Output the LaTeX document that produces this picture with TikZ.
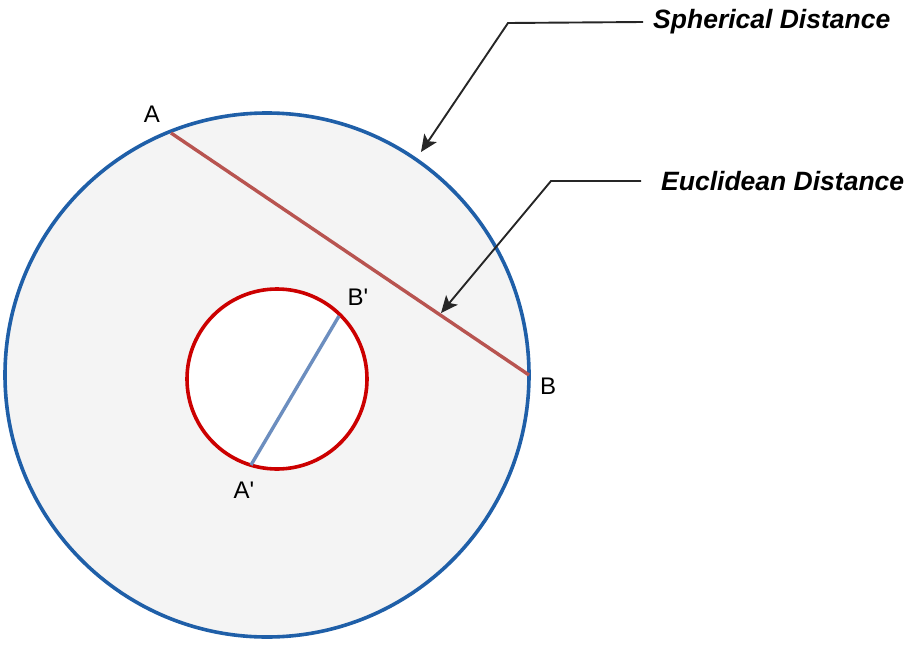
\documentclass[tikz,border=0pt]{standalone}
\usepackage{fontspec}
\setmainfont{Liberation Sans}
\usetikzlibrary{arrows.meta}
\definecolor{outerblue}{HTML}{1F5FA8}
\definecolor{outerfill}{HTML}{F4F4F4}
\definecolor{chordred}{HTML}{B85450}
\definecolor{innerred}{HTML}{CC0000}
\definecolor{chordblue}{HTML}{6C8EBF}
\tikzset{
  ptlabel/.style={font=\fontsize{24}{28}\selectfont, inner sep=0pt},
  title/.style={font=\fontsize{26.5}{30}\selectfont\bfseries\itshape, inner sep=0pt},
  pointer/.style={draw=black!85, line width=1.9pt, -{Stealth[length=17pt,width=15pt,inset=4pt]}},
}
\begin{document}
\begin{tikzpicture}[x=1pt,y=-1pt]
\useasboundingbox (0,0) rectangle (920,645);
% outer sphere
\draw[outerblue, fill=outerfill, line width=3.6pt] (267,375) circle[radius=262];
% inner circle
\draw[innerred, fill=white, line width=3.6pt] (277,379) circle[radius=90];
% chord points
\coordinate (A) at (171,133);
\coordinate (B) at (529,375);
\coordinate (Bp) at (339,316);
\coordinate (Ap) at (251,465);
\draw[chordred, line width=3.4pt] (A) -- (B);
\draw[chordblue, line width=3.4pt] (Ap) -- (Bp);
% labels
\node[ptlabel] (lA) at (152,114) {A};
\node[ptlabel] (lB) at (548,386) {B};
\node[ptlabel] (lBp) at (358,297) {B\textquotesingle};
\node[ptlabel] (lAp) at (244,490) {A\textquotesingle};
% titles
\node[title, anchor=west] (sph) at (653,22) {Spherical Distance};
\node[title, anchor=west] (euc) at (661,181) {Euclidean Distance};
\coordinate (s1) at (508,23);
\coordinate (s2) at (421,152);
\coordinate (e1) at (551,181);
\coordinate (e2) at (441,313);
\draw[pointer] ([xshift=-10pt]sph.west) -- (s1) -- (s2);
\draw[pointer] ([xshift=-20pt]euc.west) -- (e1) -- (e2);
\end{tikzpicture}
\end{document}
